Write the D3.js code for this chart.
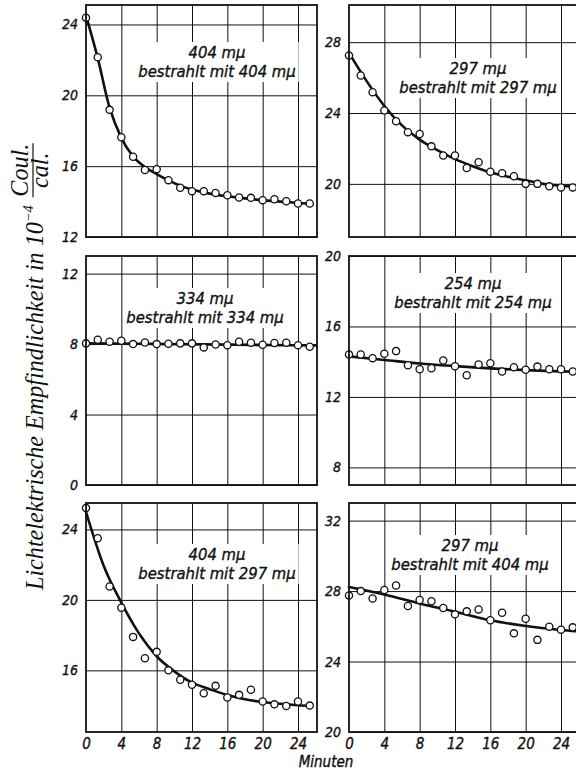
<!DOCTYPE html>
<html><head><meta charset="utf-8">
<script src="https://cdn.jsdelivr.net/npm/d3@7"></script>
<style>
body{margin:0;background:#fff}
svg{display:block}
.num{font-family:"Liberation Sans Narrow","DejaVu Sans Condensed","Roboto Condensed",sans-serif;font-style:italic;font-weight:normal;fill:#111;stroke:#111;stroke-width:0.35px}
.ttl{font-family:"Liberation Serif","DejaVu Serif",serif;font-style:italic;fill:#111}
</style></head><body>
<svg id="c" width="576" height="771"></svg>
<script>
// ---- data ----
const minutes = [0, 1.33, 2.67, 4, 5.33, 6.67, 8, 9.33, 10.67, 12, 13.33, 14.67, 16, 17.33, 18.67, 20, 21.33, 22.67, 24, 25.33];
const xTicks = [0, 4, 8, 12, 16, 20, 24];
const xDomain = [0, 26.15];

const p1Values = [24.38, 22.15, 19.18, 17.63, 16.53, 15.78, 15.83, 15.21, 14.78, 14.59, 14.59, 14.49, 14.36, 14.23, 14.21, 14.08, 14.13, 14.02, 13.89, 13.89];
const p1CurveT = [0, 1.33, 2.67, 4, 5.33, 6.67, 8, 9.33, 10.67, 12, 14, 16, 18, 20, 22, 24, 25.5];
const p1Curve  = [24.5, 22.1, 19.3, 17.6, 16.55, 15.95, 15.55, 15.2, 14.9, 14.68, 14.45, 14.3, 14.18, 14.08, 14.0, 13.92, 13.88];
const p1Ticks = [12, 16, 20, 24];
const p1Domain = [12, 25.1];

const p2Values = [27.25, 26.12, 25.18, 24.14, 23.54, 22.92, 22.82, 22.12, 21.6, 21.6, 20.9, 21.22, 20.69, 20.6, 20.43, 20.0, 20.0, 19.86, 19.8, 19.8];
const p2CurveT = [0, 2, 4, 6, 8, 10, 12, 14, 16, 18, 20, 22, 24, 26.2];
const p2Curve  = [27.4, 25.8, 24.4, 23.3, 22.5, 21.9, 21.4, 21.0, 20.65, 20.4, 20.2, 20.0, 19.9, 19.85];
const p2Ticks = [20, 24, 28];
const p2Domain = [17, 30.1];

const p3Values = [8.04, 8.25, 8.13, 8.19, 8.0, 8.09, 8.0, 8.02, 8.04, 8.04, 7.81, 7.98, 7.94, 8.13, 8.08, 7.96, 8.06, 8.08, 7.94, 7.85];
const p3CurveT = [0, 26];
const p3Curve  = [8.05, 7.92];
const p3Ticks = [0, 4, 8, 12];
const p3Domain = [0, 13];

const p4Values = [14.41, 14.41, 14.2, 14.45, 14.6, 13.8, 13.57, 13.63, 14.07, 13.74, 13.23, 13.84, 13.91, 13.44, 13.69, 13.54, 13.72, 13.57, 13.57, 13.44];
const p4CurveT = [0, 4, 8, 12, 16, 20, 24, 26.2];
const p4Curve  = [14.3, 14.1, 13.9, 13.75, 13.62, 13.52, 13.45, 13.42];
const p4Ticks = [8, 12, 16, 20];
const p4Domain = [7, 20];

const p5Values = [25.22, 23.5, 20.76, 19.56, 17.9, 16.69, 17.05, 16.0, 15.47, 15.18, 14.7, 15.12, 14.46, 14.61, 14.9, 14.23, 14.07, 13.98, 14.23, 14.0];
const p5CurveT = [0, 2, 4, 6, 8, 10, 12, 14, 16, 18, 20, 22, 24, 25.5];
const p5Curve  = [25.0, 21.94, 19.85, 18.1, 16.8, 15.94, 15.3, 14.93, 14.6, 14.36, 14.2, 14.1, 14.02, 13.98];
const p5Ticks = [16, 20, 24];
const p5Domain = [12.5, 25.5];

const p6Values = [27.75, 28.0, 27.58, 28.06, 28.32, 27.15, 27.49, 27.42, 27.04, 26.68, 26.85, 26.96, 26.34, 26.77, 25.6, 26.43, 25.23, 25.98, 25.81, 25.94];
const p6CurveT = [0, 4, 8, 12, 16, 20, 24, 26.2];
const p6Curve  = [28.23, 27.81, 27.3, 26.83, 26.34, 26.02, 25.79, 25.7];
const p6Ticks = [20, 24, 28, 32];
const p6Domain = [20, 33];

const labelTop = ["404 mμ", "297 mμ", "334 mμ", "254 mμ", "404 mμ", "297 mμ"];
const labelBottom = ["bestrahlt mit 404 mμ", "bestrahlt mit 297 mμ", "bestrahlt mit 334 mμ", "bestrahlt mit 254 mμ", "bestrahlt mit 297 mμ", "bestrahlt mit 404 mμ"];
const xLabel = "Minuten";
const yTitle = "Lichtelektrische Empfindlichkeit in 10";
const yTitleExp = "−4";
const unitNum = "Coul.";
const unitDen = "cal.";

// ---- layout ----
const colX = [86, 349], W = 231;
const rowY = [[5, 237], [256, 485], [503, 732]];
const labelPos = [[131, 53, 72], [129, 69, 88], [119, 48, 67], [124, 33, 52], [131, 57, 76], [121, 48, 67]];

const panels = [
  {v: p1Values, ct: p1CurveT, c: p1Curve, t: p1Ticks, d: p1Domain, col: 0, row: 0},
  {v: p2Values, ct: p2CurveT, c: p2Curve, t: p2Ticks, d: p2Domain, col: 1, row: 0},
  {v: p3Values, ct: p3CurveT, c: p3Curve, t: p3Ticks, d: p3Domain, col: 0, row: 1},
  {v: p4Values, ct: p4CurveT, c: p4Curve, t: p4Ticks, d: p4Domain, col: 1, row: 1},
  {v: p5Values, ct: p5CurveT, c: p5Curve, t: p5Ticks, d: p5Domain, col: 0, row: 2},
  {v: p6Values, ct: p6CurveT, c: p6Curve, t: p6Ticks, d: p6Domain, col: 1, row: 2}
];

const svg = d3.select("#c");
svg.append("rect").attr("width", 576).attr("height", 771).attr("fill", "#fff");

panels.forEach((p, i) => {
  const x0 = colX[p.col], y0 = rowY[p.row][0], y1 = rowY[p.row][1];
  const h = y1 - y0;
  const x = d3.scaleLinear().domain(xDomain).range([0, W]);
  const y = d3.scaleLinear().domain(p.d).range([h, 0]);
  const g = svg.append("g").attr("transform", `translate(${x0},${y0})`);

  g.append("g").call(d3.axisBottom(x).tickValues(xTicks.filter(t => t > 0)).tickSize(-h).tickFormat(""))
    .attr("transform", `translate(0,${h})`)
    .call(a => a.select(".domain").remove())
    .call(a => a.selectAll("line").attr("stroke", "#111").attr("stroke-width", 1));

  g.append("g").call(d3.axisLeft(y).tickValues(p.t).tickSize(-W).tickPadding(8).tickFormat(d3.format("d")))
    .call(a => a.select(".domain").remove())
    .call(a => a.selectAll("line").attr("stroke", "#111").attr("stroke-width", 1))
    .call(a => a.selectAll("text").attr("class", "num").attr("font-size", 14).attr("font-family", null));

  if (p.row === 2) {
    g.append("g").attr("transform", `translate(0,${h})`)
      .call(d3.axisBottom(x).tickValues(xTicks).tickSize(0).tickPadding(6).tickFormat(d3.format("d")))
      .call(a => a.select(".domain").remove())
      .call(a => a.selectAll("text").attr("class", "num").attr("font-size", 15).attr("font-family", null));
  }

  const lp = labelPos[i];
  const lg = g.append("g");
  const bg = lg.append("rect").attr("fill", "#fff");
  const t1 = lg.append("text").attr("class", "num").attr("font-size", 16.5).attr("text-anchor", "middle")
    .attr("x", lp[0]).attr("y", lp[1]).text(labelTop[i]);
  const t2 = lg.append("text").attr("class", "num").attr("font-size", 16.5).attr("text-anchor", "middle")
    .attr("x", lp[0]).attr("y", lp[2]).text(labelBottom[i]);
  const b1 = t1.node().getBBox(), b2 = t2.node().getBBox();
  const bx0 = Math.min(b1.x, b2.x) - 3, bx1 = Math.max(b1.x + b1.width, b2.x + b2.width) + 3;
  bg.attr("x", bx0).attr("y", b1.y - 1).attr("width", bx1 - bx0).attr("height", b2.y + b2.height - b1.y + 2);

  const line = d3.line().x((d, j) => x(p.ct[j])).y(d => y(d)).curve(d3.curveMonotoneX);
  g.append("path").datum(p.c).attr("d", line).attr("fill", "none").attr("stroke", "#111")
    .attr("stroke-width", 2.6).attr("stroke-linecap", "round");

  g.selectAll("circle.pt").data(p.v).join("circle").attr("class", "pt")
    .attr("cx", (d, j) => x(minutes[j])).attr("cy", d => y(d)).attr("r", 3.6)
    .attr("fill", "#fff").attr("stroke", "#111").attr("stroke-width", 1.3);

  g.append("rect").attr("width", W).attr("height", h).attr("fill", "none")
    .attr("stroke", "#111").attr("stroke-width", 1.8);
});

svg.append("text").attr("class", "num").attr("font-size", 15).attr("x", 326).attr("y", 767)
  .attr("text-anchor", "middle").text(xLabel);

// y title (rotated), scaled to span the reference length
const yt = svg.append("g").attr("transform", "translate(43,590) rotate(-90)");
const main = yt.append("text").attr("class", "ttl").attr("font-size", 20).attr("x", 0).attr("y", 0);
main.append("tspan").text(yTitle);
const ex = main.append("tspan").attr("font-size", 12).attr("dy", -8).text(yTitleExp);
let L = main.node().getComputedTextLength();
const fs = 20 * 385 / L;
main.attr("font-size", fs);
ex.attr("font-size", fs * 0.6).attr("dy", -fs * 0.42);
L = main.node().getComputedTextLength();
const fx = L + 8;
yt.append("text").attr("class", "ttl").attr("font-size", fs).attr("text-anchor", "middle")
  .attr("x", fx + 27).attr("y", -15).text(unitNum);
yt.append("text").attr("class", "ttl").attr("font-size", fs).attr("text-anchor", "middle")
  .attr("x", fx + 27).attr("y", 5).text(unitDen);
yt.append("line").attr("x1", fx).attr("x2", fx + 54).attr("y1", -10).attr("y2", -10)
  .attr("stroke", "#111").attr("stroke-width", 1.2);
</script>
</body></html>
